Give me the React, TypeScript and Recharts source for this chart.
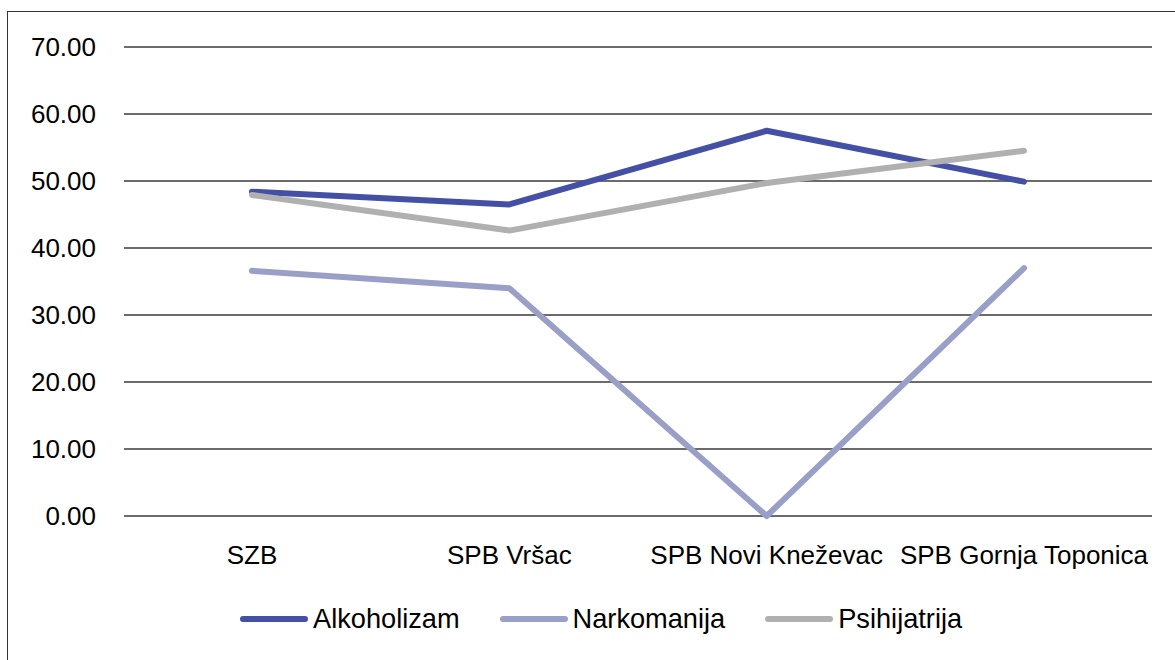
import React from 'react';
import { LineChart, Line, XAxis, YAxis, CartesianGrid, Legend } from 'recharts';

const categories = ['SZB', 'SPB Vršac', 'SPB Novi Kneževac', 'SPB Gornja Toponica'];
const alkoholizam = [48.4, 46.5, 57.5, 49.9];
const narkomanija = [36.6, 34.0, 0.0, 37.0];
const psihijatrija = [47.9, 42.6, 49.7, 54.5];
const yTicks = [0, 10, 20, 30, 40, 50, 60, 70];

const seriesInfo = [
  { key: 'Alkoholizam', color: '#4450A6' },
  { key: 'Narkomanija', color: '#9A9FC8' },
  { key: 'Psihijatrija', color: '#B0B0B0' },
];

const data = categories.map((c, i) => ({
  name: c,
  Alkoholizam: alkoholizam[i],
  Narkomanija: narkomanija[i],
  Psihijatrija: psihijatrija[i],
}));

const FONT = '"Liberation Sans", Arial, sans-serif';

const renderLegend = () => (
  <div style={{ display: 'flex', justifyContent: 'flex-start', alignItems: 'center', fontFamily: FONT, fontSize: 27.2, color: '#000', paddingLeft: 240, height: 32 }}>
    {seriesInfo.map((s, i) => (
      <div key={s.key} style={{ display: 'flex', alignItems: 'center', marginRight: i < seriesInfo.length - 1 ? 40 : 0 }}>
        <svg width={68} height={10} style={{ marginRight: 5 }}>
          <line x1={3} y1={5} x2={65} y2={5} stroke={s.color} strokeWidth={6} strokeLinecap="round" />
        </svg>
        <span>{s.key}</span>
      </div>
    ))}
  </div>
);

export default function App() {
  return (
    <div style={{ position: 'absolute', left: 0, top: 0, width: 1175, height: 660, background: '#fff', overflow: 'hidden' }}>
      <div style={{ position: 'absolute', left: 7, top: 11, width: 1200, height: 700, border: '1.5px solid #333', boxSizing: 'border-box' }} />
      <div style={{ position: 'absolute', left: 0, top: 0 }}>
        <LineChart width={1175} height={660} data={data} margin={{ top: 47, right: 23, left: 0, bottom: 0 }}>
          <CartesianGrid horizontal={true} vertical={false} stroke="#3a3a3a" strokeWidth={1.3} />
          <XAxis
            dataKey="name"
            axisLine={false}
            tickLine={false}
            padding={{ left: 128, right: 128 }}
            height={112}
            tickMargin={24}
            interval={0}
            tick={{ fill: '#000', fontSize: 26, fontFamily: FONT }}
          />
          <YAxis
            domain={[0, 70]}
            ticks={yTicks}
            width={124}
            axisLine={false}
            tickLine={false}
            tickMargin={22}
            tickFormatter={(v: number) => v.toFixed(2)}
            tick={{ fill: '#000', fontSize: 26, fontFamily: FONT }}
            interval={0}
          />
          <Legend content={renderLegend} verticalAlign="bottom" wrapperStyle={{ bottom: 25, left: 0, width: 1175 }} />
          {seriesInfo.map((s) => (
            <Line
              key={s.key}
              type="linear"
              dataKey={s.key}
              stroke={s.color}
              strokeWidth={6}
              strokeLinecap="round"
              strokeLinejoin="round"
              dot={false}
              activeDot={false}
              isAnimationActive={false}
            />
          ))}
        </LineChart>
      </div>
    </div>
  );
}
